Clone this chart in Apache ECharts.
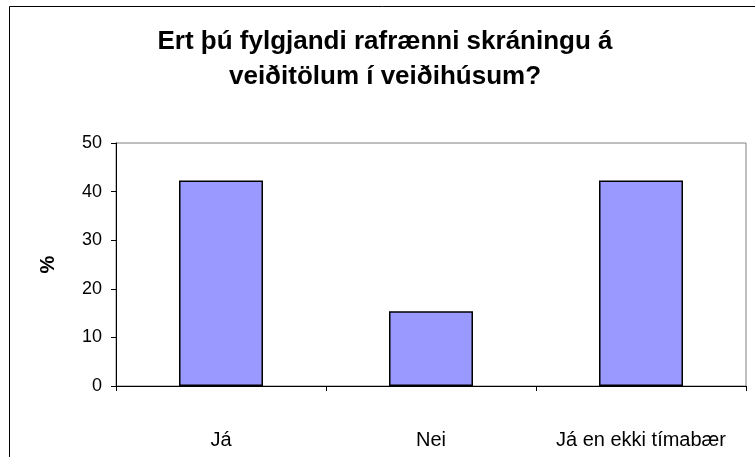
<!DOCTYPE html>
<html>
<head>
<meta charset="utf-8">
<script src="https://cdn.jsdelivr.net/npm/echarts@6/dist/echarts.min.js"></script>
<style>html,body{margin:0;padding:0;background:#fff}#c{width:755px;height:457px}</style>
</head>
<body>
<div id="c"></div>
<script>
const titleText = 'Ert þú fylgjandi rafrænni skráningu á\nveiðitölum í veiðihúsum?';
const categories = ['Já', 'Nei', 'Já en ekki tímabær'];
const values = [42.3, 15.4, 42.3];
const yTicks = [0, 10, 20, 30, 40, 50];

const chart = echarts.init(document.getElementById('c'), null, {renderer: 'canvas'});
const font = 'Liberation Sans, Arial, sans-serif';
chart.setOption({
  animation: false,
  backgroundColor: '#fff',
  title: {
    text: titleText,
    left: 380, top: 19, textAlign: 'center',
    textStyle: {fontFamily: font, fontSize: 26, fontWeight: 'bold', color: '#000', lineHeight: 35}
  },
  graphic: [{
    type: 'rect', left: 7, top: 4, silent: true,
    shape: {width: 770, height: 470},
    style: {fill: 'none', stroke: '#000', lineWidth: 1}
  }],
  grid: {left: 116, right: 9, top: 143, bottom: 71, show: true, borderColor: '#808080', borderWidth: 1, backgroundColor: 'transparent'},
  xAxis: {
    type: 'category', data: categories,
    axisLine: {lineStyle: {color: '#000', width: 1}},
    axisTick: {show: true, length: 5, alignWithLabel: false, lineStyle: {color: '#000'}},
    axisLabel: {fontFamily: font, fontSize: 20, color: '#000', margin: 44, interval: 0, hideOverlap: false}
  },
  yAxis: {
    type: 'value', min: yTicks[0], max: yTicks[yTicks.length - 1], interval: 10,
    name: '%', nameLocation: 'middle', nameGap: 58, nameRotate: 90,
    nameTextStyle: {fontFamily: font, fontSize: 20, fontWeight: 'bold', color: '#000'},
    axisLine: {show: true, lineStyle: {color: '#000', width: 1}},
    axisTick: {show: true, length: 5, lineStyle: {color: '#000'}},
    splitLine: {show: false},
    axisLabel: {fontFamily: font, fontSize: 18, color: '#000', margin: 14}
  },
  series: [{
    type: 'bar', data: values, barWidth: '40%',
    itemStyle: {color: '#9999FF', borderColor: '#000', borderWidth: 1.5}
  }]
});
</script>
</body>
</html>
